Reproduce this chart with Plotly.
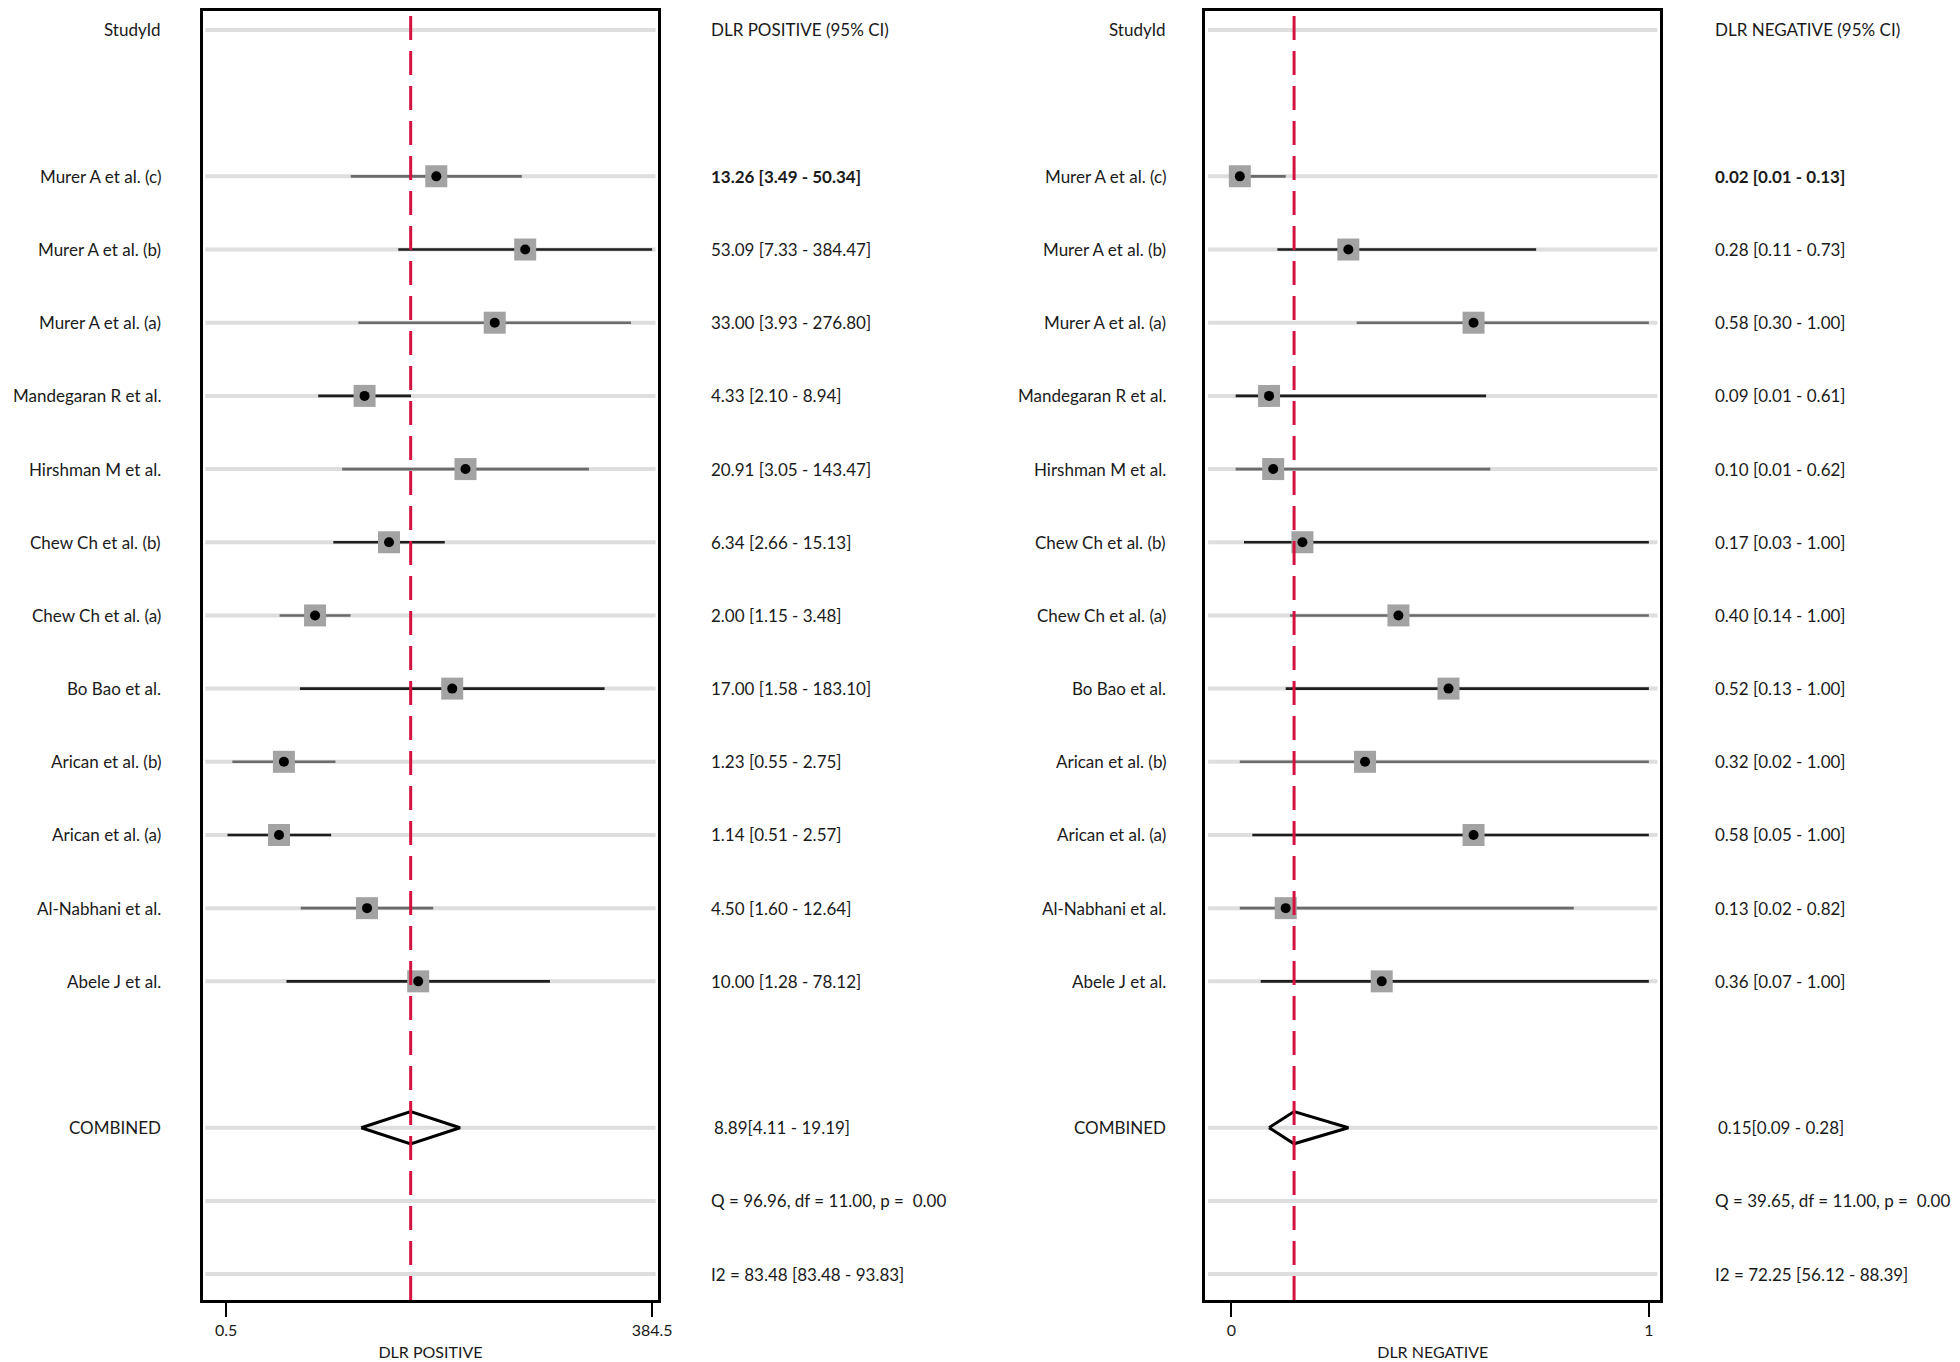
import plotly.graph_objects as go

studies = ["Murer A et al. (c)", "Murer A et al. (b)", "Murer A et al. (a)", "Mandegaran R et al.",
           "Hirshman M et al.", "Chew Ch et al. (b)", "Chew Ch et al. (a)", "Bo Bao et al.",
           "Arican et al. (b)", "Arican et al. (a)", "Al-Nabhani et al.", "Abele J et al."]
pos_est = [13.26, 53.09, 33.00, 4.33, 20.91, 6.34, 2.00, 17.00, 1.23, 1.14, 4.50, 10.00]
pos_lo = [3.49, 7.33, 3.93, 2.10, 3.05, 2.66, 1.15, 1.58, 0.55, 0.51, 1.60, 1.28]
pos_hi = [50.34, 384.47, 276.80, 8.94, 143.47, 15.13, 3.48, 183.10, 2.75, 2.57, 12.64, 78.12]
neg_est = [0.02, 0.28, 0.58, 0.09, 0.10, 0.17, 0.40, 0.52, 0.32, 0.58, 0.13, 0.36]
neg_lo = [0.01, 0.11, 0.30, 0.01, 0.01, 0.03, 0.14, 0.13, 0.02, 0.05, 0.02, 0.07]
neg_hi = [0.13, 0.73, 1.00, 0.61, 0.62, 1.00, 1.00, 1.00, 1.00, 1.00, 0.82, 1.00]
pos_comb = [8.89, 4.11, 19.19]
neg_comb = [0.15, 0.09, 0.28]
pos_stats = ["Q = 96.96, df = 11.00, p =  0.00", "I2 = 83.48 [83.48 - 93.83]"]
neg_stats = ["Q = 39.65, df = 11.00, p =  0.00", "I2 = 72.25 [56.12 - 88.39]"]
pos_ticks = [0.5, 384.5]
neg_ticks = [0, 1]

FONT = "Lato"
FS = 17
W, H = 1960, 1362
OFF_Y = 8

def px_x(v):
    return v / W

def px_y(v):
    return min(1.0, 1 - (v - OFF_Y) / H)

study_rows = list(range(2, 2 + len(studies)))
comb_row = 15
stat_rows = [16, 17]
grid_rows = [0] + study_rows + [comb_row] + stat_rows

ROW_PX = (1274 - 29) / 17
y_top_px, y_bot_px = 10, 1300
yr = [17 + (y_bot_px - 1274) / ROW_PX, -(29 - y_top_px) / ROW_PX]

fig = go.Figure()

panels = [
    dict(xa="x", ya="y", est=pos_est, lo=pos_lo, hi=pos_hi, comb=pos_comb, stats=pos_stats,
         header="DLR POSITIVE (95% CI)", lab_x=px_x(156), val_x=px_x(706)),
    dict(xa="x2", ya="y2", est=neg_est, lo=neg_lo, hi=neg_hi, comb=neg_comb, stats=neg_stats,
         header="DLR NEGATIVE (95% CI)", lab_x=px_x(1168), val_x=px_x(1717)),
]

ann = []
shapes = []
for p in panels:
    xa, ya = p["xa"], p["ya"]
    xdom = xa + " domain"
    ydom = ya + " domain"
    for r in grid_rows:
        shapes.append(dict(type="line", xref=xdom, yref=ya, x0=0.006, x1=0.994, y0=r, y1=r,
                           line=dict(color="#dedede", width=4), layer="below"))
    for i, r in enumerate(study_rows):
        col = "#6a6a6a" if i % 2 == 0 else "#1e1e1e"
        fig.add_trace(go.Scatter(x=[p["lo"][i], p["hi"][i]], y=[r, r], mode="lines",
                                 line=dict(color=col, width=2.6), xaxis=xa, yaxis=ya,
                                 showlegend=False, hoverinfo="skip"))
    fig.add_trace(go.Scatter(x=p["est"], y=study_rows, mode="markers",
                             marker=dict(symbol="square", size=22, color="#a3a3a3", line=dict(width=0)),
                             xaxis=xa, yaxis=ya, showlegend=False))
    fig.add_trace(go.Scatter(x=p["est"], y=study_rows, mode="markers",
                             marker=dict(symbol="circle", size=10, color="black"),
                             xaxis=xa, yaxis=ya, showlegend=False))
    e, l, h = p["comb"]
    fig.add_trace(go.Scatter(x=[l, e, h, e, l], y=[comb_row, comb_row - 0.22, comb_row, comb_row + 0.22, comb_row],
                             mode="lines", line=dict(color="black", width=3),
                             xaxis=xa, yaxis=ya, showlegend=False))
    shapes.append(dict(type="line", xref=xa, yref=ydom, x0=e, x1=e, y0=0, y1=1,
                       line=dict(color="#d4123f", width=3, dash="24px,11px"), layer="above"))

    ann.append(dict(x=p["lab_x"], y=0, xref="paper", yref=ya, text="StudyId", showarrow=False,
                    xanchor="right", yanchor="middle"))
    ann.append(dict(x=p["val_x"], y=0, xref="paper", yref=ya, text=p["header"], showarrow=False,
                    xanchor="left", yanchor="middle"))
    for i, r in enumerate(study_rows):
        txt = f"{p['est'][i]:.2f} [{p['lo'][i]:.2f} - {p['hi'][i]:.2f}]"
        if i == 0:
            txt = "<b>" + txt + "</b>"
        ann.append(dict(x=p["lab_x"], y=r, xref="paper", yref=ya, text=studies[i], showarrow=False,
                        xanchor="right", yanchor="middle"))
        ann.append(dict(x=p["val_x"], y=r, xref="paper", yref=ya, text=txt, showarrow=False,
                        xanchor="left", yanchor="middle"))
    ann.append(dict(x=p["lab_x"], y=comb_row, xref="paper", yref=ya, text="COMBINED", showarrow=False,
                    xanchor="right", yanchor="middle"))
    ann.append(dict(x=p["val_x"] + 3 / W, y=comb_row, xref="paper", yref=ya,
                    text=f"{e:.2f}[{l:.2f} - {h:.2f}]", showarrow=False, xanchor="left", yanchor="middle"))
    for s, r in zip(p["stats"], stat_rows):
        ann.append(dict(x=p["val_x"], y=r, xref="paper", yref=ya, text=s, showarrow=False,
                        xanchor="left", yanchor="middle"))

title_font = dict(size=16, color="#1a1a1a", family=FONT)
common_x = dict(showline=True, linecolor="black", linewidth=3, mirror=True, ticks="outside",
                ticklen=14, tickwidth=2, tickcolor="black", showgrid=False, zeroline=False,
                tickfont=dict(size=16, color="#1a1a1a", family=FONT))
common_y = dict(range=yr, showline=True, linecolor="black", linewidth=3, mirror=True,
                showticklabels=False, ticks="", showgrid=False, zeroline=False)

ydom_all = [px_y(y_bot_px), px_y(y_top_px)]
fig.update_layout(
    width=W, height=H, margin=dict(l=0, r=0, t=0, b=0),
    plot_bgcolor="white", paper_bgcolor="white",
    font=dict(family=FONT, size=FS, color="#1a1a1a"),
    xaxis=dict(type="log", range=[-0.461, 2.627], domain=[px_x(196), px_x(655)], anchor="y",
               tickvals=pos_ticks, ticktext=[str(t) for t in pos_ticks],
               title=dict(text="DLR POSITIVE", font=title_font, standoff=9), **common_x),
    yaxis=dict(domain=ydom_all, anchor="x", **common_y),
    xaxis2=dict(range=[-0.0625, 1.027], domain=[px_x(1206), px_x(1664)], anchor="y2",
                tickvals=neg_ticks, ticktext=[str(t) for t in neg_ticks],
                title=dict(text="DLR NEGATIVE", font=title_font, standoff=9), **common_x),
    yaxis2=dict(domain=ydom_all, anchor="x2", **common_y),
    annotations=ann, shapes=shapes,
)
for a in fig.layout.annotations:
    a.font = dict(family=FONT, size=FS, color="#1a1a1a")

fig.write_html("out.html")
